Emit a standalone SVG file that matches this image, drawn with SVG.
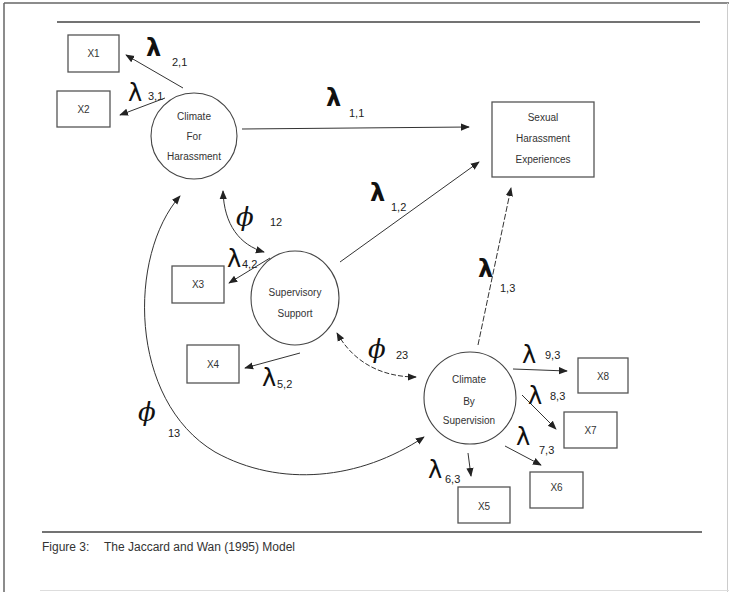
<svg xmlns="http://www.w3.org/2000/svg" width="729" height="592" viewBox="0 0 729 592">
<defs>
<marker id="ah" viewBox="0 0 10 10" refX="9" refY="5" markerWidth="9" markerHeight="9" markerUnits="userSpaceOnUse" orient="auto-start-reverse">
<path d="M0,1 L10,5 L0,9 z" fill="#222"/>
</marker>
</defs>
<style>
.box{fill:#fff;stroke:#555;stroke-width:1.3}
.node{fill:#fff;stroke:#444;stroke-width:1.1}
.t{font-family:"Liberation Sans",Arial,sans-serif;font-size:10px;fill:#333;text-anchor:middle}
.c{fill:none;stroke:#333;stroke-width:1}
.lam{font-family:"DejaVu Sans","Liberation Sans",sans-serif;font-size:24px;fill:#111}
.sub{font-family:"Liberation Sans",Arial,sans-serif;font-size:11px;fill:#222}
.phi{font-family:"DejaVu Serif","Liberation Serif",serif;font-style:italic;font-size:26px;fill:#111}
.cap{font-family:"Liberation Sans",Arial,sans-serif;font-size:12px;fill:#333}
</style>
<rect width="729" height="592" fill="#fff"/>
<g id="frame">
<line x1="4" y1="3" x2="729" y2="3" stroke="#666" stroke-width="1.5"/>
<line x1="4" y1="3" x2="4" y2="592" stroke="#666" stroke-width="1.5"/>
<line x1="727.5" y1="3" x2="727.5" y2="592" stroke="#ccc" stroke-width="1"/>
<line x1="40" y1="590.5" x2="729" y2="590.5" stroke="#ddd" stroke-width="1"/>
<line x1="57" y1="22" x2="700" y2="22" stroke="#444" stroke-width="1.5"/>
<line x1="42" y1="532" x2="702" y2="532" stroke="#444" stroke-width="1.5"/>
<text class="cap" x="42" y="551">Figure 3:</text>
<text class="cap" x="104" y="551">The Jaccard and Wan (1995) Model</text>
</g>
<g id="connectors">
<line class="c" x1="183" y1="88" x2="126" y2="55" marker-end="url(#ah)"/>
<line class="c" x1="165" y1="98" x2="120" y2="115" marker-end="url(#ah)"/>
<line class="c" x1="242" y1="129" x2="469" y2="127" marker-end="url(#ah)"/>
<line class="c" x1="340" y1="262" x2="479" y2="162" marker-end="url(#ah)"/>
<line class="c" x1="478" y1="345" x2="511" y2="188" marker-end="url(#ah)" stroke-dasharray="6,2"/>
<path class="c" d="M223,191 C224,225 240,245 264,252" marker-start="url(#ah)" marker-end="url(#ah)"/>
<line class="c" x1="270" y1="258" x2="229" y2="283" marker-end="url(#ah)"/>
<line class="c" x1="300" y1="353" x2="245" y2="368" marker-end="url(#ah)"/>
<path class="c" d="M337,333 C355,365 385,377 416,377" marker-start="url(#ah)" marker-end="url(#ah)" stroke-dasharray="5,2"/>
<path class="c" d="M180,196 C128,255 128,400 215,452 C280,488 360,480 424,437" marker-start="url(#ah)" marker-end="url(#ah)"/>
<line class="c" x1="513" y1="369" x2="567" y2="371" marker-end="url(#ah)"/>
<line class="c" x1="522" y1="395" x2="556" y2="429" marker-end="url(#ah)"/>
<line class="c" x1="505" y1="446" x2="541" y2="465" marker-end="url(#ah)"/>
<line class="c" x1="468" y1="453" x2="471" y2="476" marker-end="url(#ah)"/>
</g>
<g id="labels">
<text class="lam" x="146" y="56" font-weight="bold">λ</text><text class="sub" x="172" y="66">2,1</text>
<text class="lam" x="128" y="101" font-size="21">λ</text><text class="sub" x="148" y="100">3,1</text>
<text class="lam" x="326" y="106" font-weight="bold">λ</text><text class="sub" x="349" y="117">1,1</text>
<text class="lam" x="370" y="201" font-weight="bold">λ</text><text class="sub" x="391" y="211">1,2</text>
<text class="lam" x="478" y="277" font-weight="bold">λ</text><text class="sub" x="500" y="292">1,3</text>
<text class="phi" x="236" y="226">ϕ</text><text class="sub" x="270" y="226">12</text>
<text class="lam" x="227" y="267" font-size="21">λ</text><text class="sub" x="242" y="268">4,2</text>
<text class="lam" x="262" y="386" font-size="21">λ</text><text class="sub" x="277" y="388">5,2</text>
<text class="phi" x="368" y="358">ϕ</text><text class="sub" x="396" y="359">23</text>
<text class="phi" x="138" y="421">ϕ</text><text class="sub" x="168" y="437">13</text>
<text class="lam" x="522" y="363" font-size="21">λ</text><text class="sub" x="545" y="359">9,3</text>
<text class="lam" x="528" y="404" font-size="21">λ</text><text class="sub" x="550" y="400">8,3</text>
<text class="lam" x="516" y="445" font-size="21">λ</text><text class="sub" x="539" y="454">7,3</text>
<text class="lam" x="428" y="478" font-size="21">λ</text><text class="sub" x="445" y="483">6,3</text>
</g>
<g id="X1"><rect class="box" x="68" y="35" width="51" height="37"/><text class="t" x="93.5" y="57">X1</text></g>
<g id="X2"><rect class="box" x="57" y="91" width="53" height="36"/><text class="t" x="83.5" y="113">X2</text></g>
<g id="climate_for_harassment"><circle class="node" cx="194" cy="136" r="43"/><text class="t" x="194" y="120">Climate</text><text class="t" x="194" y="140">For</text><text class="t" x="194" y="160">Harassment</text></g>
<g id="sexual_harassment"><rect class="box" x="492" y="102" width="102" height="75"/><text class="t" x="543" y="121">Sexual</text><text class="t" x="543" y="142">Harassment</text><text class="t" x="543" y="163">Experiences</text></g>
<g id="X3"><rect class="box" x="172" y="266" width="52" height="37"/><text class="t" x="198" y="288">X3</text></g>
<g id="supervisory_support"><ellipse class="node" cx="295" cy="298" rx="44" ry="47"/><text class="t" x="295" y="296">Supervisory</text><text class="t" x="295" y="317">Support</text></g>
<g id="X4"><rect class="box" x="187" y="345" width="52" height="38"/><text class="t" x="213" y="368">X4</text></g>
<g id="climate_by_supervision"><circle class="node" cx="470" cy="398" r="46"/><text class="t" x="469" y="383">Climate</text><text class="t" x="469" y="405">By</text><text class="t" x="469" y="424">Supervision</text></g>
<g id="X8"><rect class="box" x="578" y="358" width="50" height="35"/><text class="t" x="603" y="380">X8</text></g>
<g id="X7"><rect class="box" x="564" y="412" width="53" height="36"/><text class="t" x="590.5" y="434">X7</text></g>
<g id="X6"><rect class="box" x="530" y="472" width="53" height="36"/><text class="t" x="556.5" y="491">X6</text></g>
<g id="X5"><rect class="box" x="458" y="487" width="52" height="36"/><text class="t" x="484" y="510">X5</text></g>
</svg>
